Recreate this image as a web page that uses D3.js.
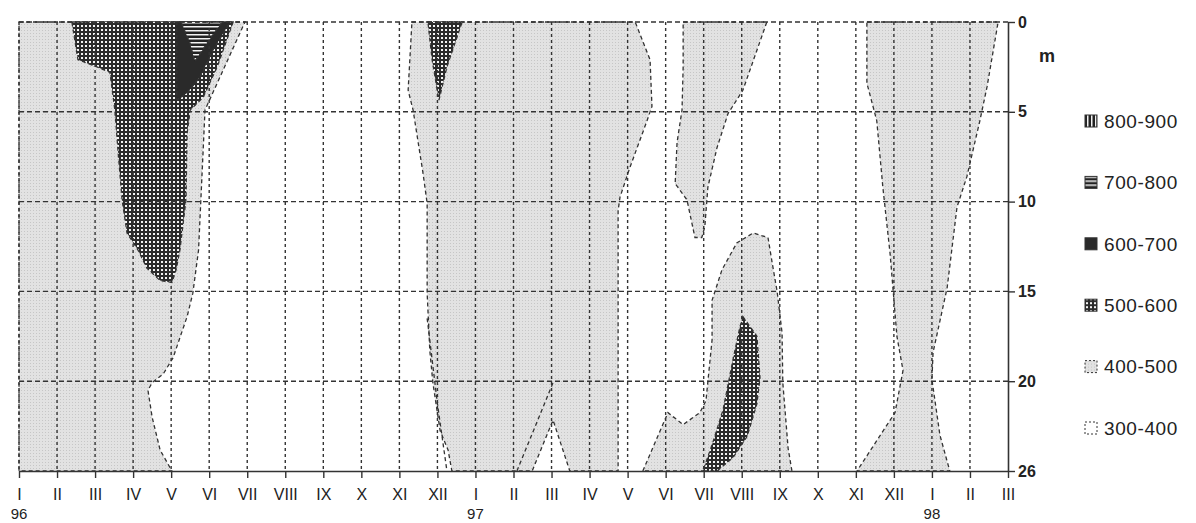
<!DOCTYPE html>
<html>
<head>
<meta charset="utf-8">
<script src="https://cdn.jsdelivr.net/npm/d3@7"></script>
<style>
body { margin: 0; background: #fff; }
text { font-family: Arial, "Liberation Sans", sans-serif; fill: #222; }
</style>
</head>
<body>
<div id="chart"></div>
<script>
// size of the page and the plot box
const width = 1196;
const height = 523;
const margin = {top: 22, right: 188, bottom: 52, left: 19};

// time axis: months from I 1996 to III 1998
const months = ["I","II","III","IV","V","VI","VII","VIII","IX","X","XI","XII",
                "I","II","III","IV","V","VI","VII","VIII","IX","X","XI","XII",
                "I","II","III"];
const yearLabels = ["96", "97", "98"];
const yearMonths = [0, 12, 24];

// depth axis (m)
const depthTicks = [0, 5, 10, 15, 20, 26];
const depthGrid = [0, 5, 10, 15, 20];

// legend classes
const classNames = ["800-900", "700-800", "600-700", "500-600", "400-500", "300-400"];
const classFills = ["url(#vlines)", "url(#hlines)", "#2a2a2a", "url(#grid)", "url(#light)", "#fff"];

// contour regions, as [month, depth]
// 400-500
const grayWinter96 = [[0,0],[5.94,0],[4.89,4.9],[4.72,12.7],[4.57,15.1],[4.42,16.4],[4.05,18.7],
  [3.79,19.6],[3.5,20.1],[3.39,20.6],[3.5,22.4],[3.71,24.6],[4.02,26],[0,26]];
const grayWinter97 = [[10.33,0],[16.2,0],[16.59,2.1],[16.64,4.7],[16.51,5.5],[16.06,8.1],[15.8,9.75],
  [15.75,10.5],[15.75,26],[14.48,26],[14.04,22.6],[13.49,26],[11.38,26],[11.28,24.6],[11.07,23.3],
  [10.88,20.1],[10.8,18.3],[10.73,15.1],[10.73,10.1],[10.62,8.4],[10.36,4.9],[10.23,3.8]];
const graySummer97 = [[16.4,26],[17.06,22.1],[17.46,22.9],[17.9,22.1],[18.06,21.3],[18.22,17.7],
  [18.22,15.5],[18.48,13.8],[18.87,12.3],[19.3,11.75],[19.69,12.0],[19.8,13.4],[19.93,15.0],
  [20.06,17.3],[20.08,20.1],[20.22,24.5],[20.32,26]];
const grayLens97 = [[17.46,0],[19.66,0],[19.03,3.8],[18.64,5.1],[18.35,7.0],[18.11,9.2],[18.03,11.4],
  [17.95,12.0],[17.77,12.0],[17.56,9.9],[17.25,9.0],[17.3,6.7],[17.43,4.9],[17.46,2.5]];
const grayWinter98 = [[22.29,0],[25.74,0],[25.45,3.6],[25.26,5.5],[24.92,8.6],[24.66,10.3],[24.4,14.8],
  [24.03,18.4],[24.0,19.9],[24.21,23.6],[24.47,26],[22.03,26],[23.03,22.1],[23.24,19.4],[23.08,17.5],
  [22.9,12.9],[22.71,9.2],[22.55,5.5],[22.29,3.4]];
// 500-600
const gridSpring96 = [[1.39,0],[5.63,0],[5.21,2.5],[4.84,4.2],[4.5,4.9],[4.42,6.2],[4.39,9.9],[4.23,12.7],
  [4.13,13.8],[4.02,14.5],[3.71,14.4],[3.36,13.7],[3.13,12.7],[2.84,11.75],[2.71,9.9],[2.6,7.1],
  [2.52,4.9],[2.39,2.8],[2.05,2.5],[1.55,2.1]];
const gridDec96 = [[10.75,0],[11.65,0],[11.25,2.5],[11.04,4.35],[10.86,2.1]];
const gridAug97 = [[19.03,16.4],[19.4,17.5],[19.48,19.8],[19.4,21.5],[19.14,23.7],[18.77,25.1],
  [18.35,26],[17.98,26],[18.24,24.1],[18.51,21.9],[18.77,18.8],[18.95,17.0]];
// 600-700
const darkMay96 = [[4.15,0],[5.55,0],[5.1,1.56],[4.76,3.06],[4.42,3.96],[4.15,4.35]];
// 700-800
const stripeMay96 = [[4.26,0],[5.34,0],[5.0,1.0],[4.75,1.8],[4.62,2.2],[4.5,1.2]];

// extra isolines inside the grey areas
const isoFeb97 = [[13.09,26],[14.04,20.1]];
const isoDec96 = [[10.73,16.5],[11.0,21.5],[11.25,26]];

const regions = [
  {fill: "url(#light)", pts: grayWinter96},
  {fill: "url(#light)", pts: grayWinter97},
  {fill: "url(#light)", pts: graySummer97},
  {fill: "url(#light)", pts: grayLens97},
  {fill: "url(#light)", pts: grayWinter98},
  {fill: "url(#grid)", pts: gridSpring96},
  {fill: "url(#grid)", pts: gridDec96},
  {fill: "url(#grid)", pts: gridAug97},
  {fill: "#2a2a2a", pts: darkMay96},
  {fill: "url(#hlines)", pts: stripeMay96}
];

const svg = d3.select("#chart").append("svg")
    .attr("width", width)
    .attr("height", height);

// fill patterns
const defs = svg.append("defs");
const light = defs.append("pattern").attr("id", "light")
    .attr("width", 3).attr("height", 3).attr("patternUnits", "userSpaceOnUse");
light.append("rect").attr("width", 3).attr("height", 3).attr("fill", "#e2e2e2");
light.append("rect").attr("width", 1).attr("height", 1).attr("fill", "#c6c6c6");

const grid = defs.append("pattern").attr("id", "grid")
    .attr("width", 4).attr("height", 4).attr("patternUnits", "userSpaceOnUse");
grid.append("rect").attr("width", 4).attr("height", 4).attr("fill", "#2b2b2b");
grid.append("rect").attr("x", 1).attr("y", 1).attr("width", 2).attr("height", 2).attr("fill", "#f4f4f4");

const hl = defs.append("pattern").attr("id", "hlines")
    .attr("width", 4).attr("height", 4).attr("patternUnits", "userSpaceOnUse");
hl.append("rect").attr("width", 4).attr("height", 4).attr("fill", "#222");
hl.append("rect").attr("y", 2).attr("width", 4).attr("height", 1.5).attr("fill", "#f2f2f2");

const vl = defs.append("pattern").attr("id", "vlines")
    .attr("width", 4).attr("height", 4).attr("patternUnits", "userSpaceOnUse");
vl.append("rect").attr("width", 4).attr("height", 4).attr("fill", "#222");
vl.append("rect").attr("x", 2).attr("width", 1.5).attr("height", 4).attr("fill", "#f2f2f2");

// scales
const x = d3.scaleLinear()
    .domain([0, 26])
    .range([margin.left, width - margin.right]);

const plotH = height - margin.bottom - margin.top;
const y = d3.scaleLinear()
    .domain([0, 20, 26])
    .range([margin.top, margin.top + plotH * 0.8, height - margin.bottom]);

const line = d3.line()
    .x(d => x(d[0]))
    .y(d => y(d[1]))
    .curve(d3.curveLinearClosed);

const openLine = d3.line()
    .x(d => x(d[0]))
    .y(d => y(d[1]));

// contour areas
svg.append("g").selectAll("path")
    .data(regions)
    .enter().append("path")
    .attr("d", d => line(d.pts))
    .attr("fill", d => d.fill)
    .attr("stroke", "#333")
    .attr("stroke-width", 1.3)
    .attr("stroke-dasharray", "4,3");

svg.append("g").selectAll("path")
    .data([isoFeb97, isoDec96])
    .enter().append("path")
    .attr("d", openLine)
    .attr("fill", "none")
    .attr("stroke", "#333")
    .attr("stroke-width", 1.3)
    .attr("stroke-dasharray", "4,3");

// dashed grid
svg.append("g").selectAll("line")
    .data(d3.range(0, 26))
    .enter().append("line")
    .attr("x1", d => x(d)).attr("x2", d => x(d))
    .attr("y1", y(0)).attr("y2", y(26))
    .attr("stroke", "#333")
    .attr("stroke-width", 1.4)
    .attr("stroke-dasharray", "3,3");

svg.append("g").selectAll("line")
    .data(depthGrid)
    .enter().append("line")
    .attr("x1", x(0)).attr("x2", x(26))
    .attr("y1", d => y(d)).attr("y2", d => y(d))
    .attr("stroke", "#333")
    .attr("stroke-width", 1.4)
    .attr("stroke-dasharray", "5,3");

// bottom axis
const xAxis = svg.append("g")
    .attr("transform", `translate(0,${y(26)})`)
    .call(d3.axisBottom(x)
        .tickValues(d3.range(0, 27))
        .tickFormat(i => months[i])
        .tickSize(7)
        .tickPadding(11)
        .tickSizeOuter(0));
xAxis.select(".domain").attr("stroke", "#333").attr("stroke-width", 1.6);
xAxis.selectAll(".tick line").attr("stroke", "#333").attr("stroke-width", 1.4);
xAxis.selectAll("text").style("font-size", "16px").attr("fill", "#222")
    .style("font-family", "Arial, 'Liberation Sans', sans-serif");

// year labels
svg.append("g").selectAll("text")
    .data(yearLabels)
    .enter().append("text")
    .attr("x", (d, i) => x(yearMonths[i]))
    .attr("y", 519)
    .attr("text-anchor", "middle")
    .style("font-size", "15px")
    .text(d => d);

// right depth axis
const yAxis = svg.append("g")
    .attr("transform", `translate(${x(26)},0)`)
    .call(d3.axisRight(y)
        .tickValues(depthTicks)
        .tickSize(7)
        .tickPadding(3)
        .tickSizeOuter(0));
yAxis.select(".domain").attr("stroke", "#333").attr("stroke-width", 1.6);
yAxis.selectAll(".tick line").attr("stroke", "#333").attr("stroke-width", 1.4);
yAxis.selectAll("text").style("font-size", "16px").style("font-weight", "bold")
    .attr("fill", "#222").style("font-family", "Arial, 'Liberation Sans', sans-serif");

svg.append("text")
    .attr("x", x(26) + 39)
    .attr("y", 62)
    .attr("text-anchor", "middle")
    .style("font-size", "18px")
    .style("font-weight", "bold")
    .text("m");

// legend
const legend = svg.append("g").selectAll("g")
    .data(classNames)
    .enter().append("g")
    .attr("transform", (d, i) => `translate(1085,${121 + i * 61.4})`);

legend.append("rect")
    .attr("x", 0).attr("y", -6)
    .attr("width", 12).attr("height", 12)
    .attr("fill", (d, i) => classFills[i])
    .attr("stroke", "#333")
    .attr("stroke-width", 1)
    .attr("stroke-dasharray", (d, i) => i >= 4 ? "2,2" : null);

legend.append("text")
    .attr("x", 19)
    .attr("dy", "0.36em")
    .style("font-size", "19px")
    .style("letter-spacing", "0.6px")
    .text(d => d);
</script>
</body>
</html>
